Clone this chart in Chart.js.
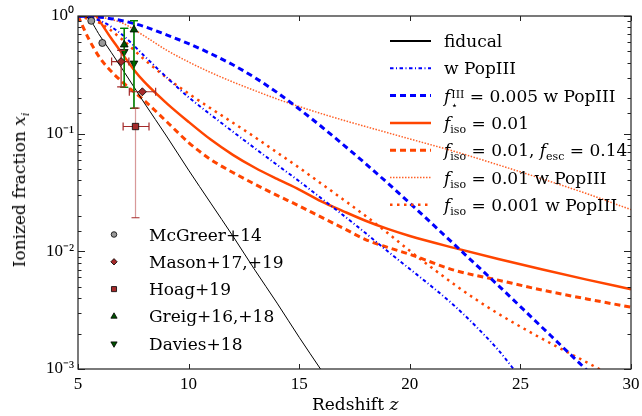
<!DOCTYPE html>
<html>
<head>
<meta charset="utf-8">
<script src="https://cdn.jsdelivr.net/npm/chart.js@4/dist/chart.umd.min.js"></script>
<style>
  body { margin: 0; background: #fff; }
  #wrap { position: relative; width: 642px; height: 416px; }
  #chart { position: absolute; left: 0; top: 0; }
  .lbl { position: absolute; font-family: 'DejaVu Serif', serif; font-size: 17px; line-height: 20px; color: #000; white-space: nowrap; }
  .lbl sub { font-size: 11px; vertical-align: -4px; line-height: 0; }
  .ss { display: inline-block; vertical-align: -7px; font-size: 11px; line-height: 11px; margin-left: 1px; }
  .ss span { display: block; }
  .ytitle { transform: translate(-50%, -50%) rotate(-90deg); }
</style>
</head>
<body>
<div id="wrap">
  <canvas id="chart" width="642" height="416"></canvas>
</div>
<script>
// model curves: redshift z and ionized fraction x_i
const fidZ = [5, 5.4, 6, 7, 8, 9, 10, 11, 12, 13, 14, 15, 16, 16.5];
const fidX = [1, 0.977, 0.676, 0.355, 0.182, 0.0955, 0.049, 0.0257, 0.0135, 0.00692, 0.00363, 0.00186, 0.000977, 0.000708];

const popZ = [5, 6, 7, 8, 9, 10, 11, 12, 13, 14, 15, 16, 17, 18, 19, 20, 21, 22, 23, 24, 24.6, 25];
const popX = [1, 0.912, 0.692, 0.457, 0.302, 0.204, 0.145, 0.104, 0.075, 0.0543, 0.0394, 0.0282, 0.0202, 0.0143, 0.01, 0.00708, 0.00501, 0.00347, 0.00229, 0.00145, 0.00105, 0.00083];

const pop005Z = [5, 6, 7, 8, 9, 10, 11, 12, 13, 14, 15, 16, 17, 18, 19, 20, 21, 22, 23, 24, 25, 26, 27, 28];
const pop005X = [1, 0.977, 0.912, 0.813, 0.692, 0.582, 0.479, 0.385, 0.299, 0.224, 0.162, 0.115, 0.0804, 0.0556, 0.038, 0.0257, 0.0172, 0.0115, 0.00767, 0.00513, 0.00339, 0.00224, 0.00148, 0.00098];

const isoZ = [5, 5.8, 6, 6.5, 7, 7.5, 8, 9, 10, 11, 12, 13, 14, 15, 16, 17, 18, 19, 20, 22, 24, 26, 28, 30];
const isoX = [1, 1, 0.891, 0.646, 0.479, 0.355, 0.275, 0.182, 0.126, 0.0891, 0.0661, 0.0513, 0.0412, 0.0335, 0.0266, 0.0219, 0.0182, 0.0155, 0.0135, 0.0107, 0.0086, 0.007, 0.00575, 0.00476];

const escZ = [5, 5.5, 6, 6.5, 7, 8, 9, 10, 11, 12, 13, 14, 15, 16, 17, 18, 19, 20, 22, 24, 26, 28, 30];
const escX = [1, 0.631, 0.437, 0.339, 0.275, 0.191, 0.127, 0.0841, 0.0603, 0.0468, 0.0372, 0.0299, 0.0243, 0.0195, 0.0157, 0.0126, 0.0108, 0.00944, 0.00692, 0.00569, 0.00468, 0.00394, 0.00335];

const isoPopZ = [5, 6, 7, 8, 9, 10, 11, 12, 13, 14, 15, 16, 17, 18, 20, 22, 24, 26, 28, 30];
const isoPopX = [1, 0.977, 0.871, 0.676, 0.513, 0.407, 0.331, 0.275, 0.232, 0.197, 0.17, 0.148, 0.13, 0.115, 0.0902, 0.0708, 0.0543, 0.0412, 0.0309, 0.0226];

const iso001Z = [5, 6, 7, 8, 9, 10, 11, 12, 13, 14, 15, 16, 17, 18, 19, 20, 21, 22, 23, 24, 25, 26, 27, 28, 29];
const iso001X = [1, 0.871, 0.631, 0.427, 0.299, 0.219, 0.164, 0.124, 0.0933, 0.0692, 0.0513, 0.0376, 0.0275, 0.02, 0.0143, 0.0101, 0.00724, 0.00525, 0.00389, 0.00295, 0.00229, 0.0018, 0.00143, 0.00114, 0.0009];

// observations
const mcgreerZ = [5.6, 6.1];
const mcgreerX = [0.91, 0.59];

const masonZ = [6.95, 7.91];
const masonX = [0.41, 0.227];
const masonZLo = [6.52, 7.32];
const masonZHi = [7.3, 8.51];
const masonLo = [0.25, 0.227];
const masonHi = [0.51, 0.227];

const hoagZ = [7.6];
const hoagX = [0.115];
const hoagZLo = [7.04];
const hoagZHi = [8.21];
const hoagLo = [0.0193];
const hoagHi = [0.165];

const greigZ = [7.09, 7.53];
const greigX = [0.57, 0.765];
const greigLo = [0.248, 0.164];
const greigHi = [0.786, 0.912];

const daviesZ = [7.09, 7.53];
const daviesX = [0.497, 0.396];
const daviesLo = [0.248, 0.164];
const daviesHi = [0.786, 0.912];

const xTicks = [5, 10, 15, 20, 25, 30];
const yTickVals = [1, 0.1, 0.01, 0.001];
const yTickLabels = ['10⁰', '10⁻¹', '10⁻²', '10⁻³'];

const lineLabels = [
  'fiducal',
  'w PopIII',
  '<i>f</i><span class="ss"><span>III</span><span>⋆</span></span> = 0.005 w PopIII',
  '<i>f</i><sub>iso</sub> = 0.01',
  '<i>f</i><sub>iso</sub> = 0.01, <i>f</i><sub>esc</sub> = 0.14',
  '<i>f</i><sub>iso</sub> = 0.01 w PopIII',
  '<i>f</i><sub>iso</sub> = 0.001 w PopIII'
];
const obsLabels = ['McGreer+14', 'Mason+17,+19', 'Hoag+19', 'Greig+16,+18', 'Davies+18'];

const ORANGE = '#ff4500';
const BLUE = '#0000ff';
const BROWN = '#a52a2a';
const GREEN = '#008000';

function pts(zs, xs) {
  return zs.map((z, i) => ({ x: z, y: xs[i] }));
}

function curve(zs, xs, color, width, dash) {
  return {
    data: pts(zs, xs),
    borderColor: color,
    borderWidth: width,
    borderDash: dash,
    pointRadius: 0,
    fill: false,
    cubicInterpolationMode: 'monotone',
    clip: 0
  };
}

function marks(zs, xs, style, bg, radius, err) {
  return {
    data: pts(zs, xs),
    showLine: false,
    pointStyle: style,
    pointRadius: radius,
    pointBackgroundColor: bg,
    pointBorderColor: '#000',
    pointBorderWidth: 0.8,
    pointRotation: 0,
    err: err,
    clip: false
  };
}

const davies = marks(daviesZ, daviesX, 'triangle', '#005000', 4.5,
  { zs: daviesZ, lo: daviesLo, hi: daviesHi, color: GREEN });
davies.pointRotation = 180;

const datasets = [
  marks(mcgreerZ, mcgreerX, 'circle', '#999999', 3.5, null),
  marks(masonZ, masonX, 'rectRot', BROWN, 4,
    { zs: masonZ, zLo: masonZLo, zHi: masonZHi, lo: masonLo, hi: masonHi, color: BROWN }),
  marks(hoagZ, hoagX, 'rect', BROWN, 4.5,
    { zs: hoagZ, zLo: hoagZLo, zHi: hoagZHi, lo: hoagLo, hi: hoagHi, color: BROWN, vColor: 'rgba(200,110,110,0.7)' }),
  marks(greigZ, greigX, 'triangle', '#005000', 4.5,
    { zs: greigZ, lo: greigLo, hi: greigHi, color: GREEN }),
  davies,
  curve(fidZ, fidX, '#000', 1, []),
  curve(popZ, popX, BLUE, 2, [3.5, 2.5, 1, 2.5]),
  curve(pop005Z, pop005X, BLUE, 3, [6, 4]),
  curve(isoZ, isoX, ORANGE, 2.5, []),
  curve(escZ, escX, ORANGE, 3, [6, 4]),
  curve(isoPopZ, isoPopX, 'rgba(255,69,0,0.85)', 1.5, [1.5, 1.5]),
  curve(iso001Z, iso001X, ORANGE, 2.5, [2.5, 4.5])
];

function isDecade(v) {
  const l = Math.log10(v);
  return Math.abs(l - Math.round(l)) < 1e-6;
}

const errorBars = {
  id: 'errorBars',
  beforeDatasetDraw(chart, args) {
    const ds = chart.data.datasets[args.index];
    if (!ds.err) return;
    const e = ds.err;
    const { ctx, scales: { x, y } } = chart;
    const cap = 4;
    ctx.save();
    ctx.lineWidth = 1.2;
    e.zs.forEach((z, i) => {
      const px = x.getPixelForValue(z);
      const py = y.getPixelForValue(ds.data[i].y);
      if (e.lo && e.lo[i] !== e.hi[i]) {
        const y1 = y.getPixelForValue(e.lo[i]);
        const y2 = y.getPixelForValue(e.hi[i]);
        ctx.strokeStyle = e.vColor || e.color;
        ctx.beginPath();
        ctx.moveTo(px, y1); ctx.lineTo(px, y2);
        ctx.stroke();
        ctx.strokeStyle = e.color;
        ctx.beginPath();
        ctx.moveTo(px - cap, y1); ctx.lineTo(px + cap, y1);
        ctx.moveTo(px - cap, y2); ctx.lineTo(px + cap, y2);
        ctx.stroke();
      }
      if (e.zLo) {
        const x1 = x.getPixelForValue(e.zLo[i]);
        const x2 = x.getPixelForValue(e.zHi[i]);
        ctx.strokeStyle = e.color;
        ctx.beginPath();
        ctx.moveTo(x1, py); ctx.lineTo(x2, py);
        ctx.moveTo(x1, py - cap); ctx.lineTo(x1, py + cap);
        ctx.moveTo(x2, py - cap); ctx.lineTo(x2, py + cap);
        ctx.stroke();
      }
    });
    ctx.restore();
  }
};

// frame, inward ticks and the two legends' symbols
const frameAndKeys = {
  id: 'frameAndKeys',
  afterDraw(chart) {
    const { ctx, chartArea: a, scales: { x, y } } = chart;
    ctx.save();
    ctx.strokeStyle = '#222';
    ctx.lineWidth = 1.2;
    ctx.strokeRect(a.left, a.top, a.right - a.left, a.bottom - a.top);

    ctx.lineWidth = 1;
    ctx.beginPath();
    y.ticks.forEach(t => {
      const py = Math.round(y.getPixelForValue(t.value)) + 0.5;
      const len = isDecade(t.value) ? 7 : 3.5;
      ctx.moveTo(a.left, py); ctx.lineTo(a.left + len, py);
      ctx.moveTo(a.right, py); ctx.lineTo(a.right - len, py);
    });
    x.ticks.forEach(t => {
      const px = Math.round(x.getPixelForValue(t.value)) + 0.5;
      ctx.moveTo(px, a.bottom); ctx.lineTo(px, a.bottom - 5);
      ctx.moveTo(px, a.top); ctx.lineTo(px, a.top + 5);
    });
    ctx.stroke();

    // line legend samples
    const lineSets = chart.data.datasets.slice(5);
    lineSets.forEach((ds, i) => {
      const yy = 41 + i * 27.3;
      ctx.strokeStyle = ds.borderColor;
      ctx.lineWidth = i === 0 ? 2 : ds.borderWidth;
      ctx.setLineDash(ds.borderDash);
      ctx.beginPath();
      ctx.moveTo(390, yy); ctx.lineTo(431, yy);
      ctx.stroke();
    });
    ctx.setLineDash([]);

    // marker legend
    const markSets = chart.data.datasets.slice(0, 5);
    markSets.forEach((ds, i) => {
      const yy = 234.5 + i * 27.3;
      ctx.fillStyle = ds.pointBackgroundColor;
      ctx.strokeStyle = '#000';
      ctx.lineWidth = 0.8;
      Chart.helpers.drawPoint(ctx, {
        pointStyle: ds.pointStyle,
        radius: ds.pointRadius * 0.8,
        rotation: ds.pointRotation,
        borderWidth: 0.8
      }, 114, yy);
    });
    ctx.restore();
  }
};

new Chart(document.getElementById('chart'), {
  type: 'line',
  data: { datasets: datasets },
  options: {
    responsive: false,
    animation: false,
    devicePixelRatio: 1,
    layout: { padding: { top: 16, right: 11, left: 0, bottom: 0 } },
    plugins: { legend: { display: false }, tooltip: { enabled: false } },
    scales: {
      x: {
        type: 'linear', min: 5, max: 30,
        afterBuildTicks: s => { s.ticks = xTicks.map(v => ({ value: v })); },
        // invisible tick marks push the labels down without widening the side padding
        grid: { display: true, drawOnChartArea: false, drawTicks: true, tickLength: 5, tickColor: 'rgba(0,0,0,0)', color: 'rgba(0,0,0,0)' },
        border: { display: false },
        ticks: { color: '#000', padding: 0, font: { family: 'Liberation Serif', size: 17 } },
        afterFit: s => { s.height = 47; }
      },
      y: {
        type: 'logarithmic', min: 0.001, max: 1,
        grid: { display: false, drawTicks: false },
        border: { display: false },
        ticks: {
          autoSkip: false, color: '#000', padding: 4,
          font: { family: 'Liberation Serif', size: 17 },
          callback: v => {
            const k = yTickVals.findIndex(t => Math.abs(Math.log10(t) - Math.log10(v)) < 1e-6);
            return k >= 0 ? yTickLabels[k] : '';
          }
        },
        afterFit: s => { s.width = 78; }
      }
    }
  },
  plugins: [errorBars, frameAndKeys]
});

// text overlays
const wrap = document.getElementById('wrap');
function addLabel(html, left, top, cls) {
  const d = document.createElement('div');
  d.className = 'lbl' + (cls ? ' ' + cls : '');
  d.innerHTML = html;
  d.style.left = left + 'px';
  d.style.top = top + 'px';
  wrap.appendChild(d);
  return d;
}
lineLabels.forEach((t, i) => addLabel(t, 444, 41 + i * 27.3 - 10));
obsLabels.forEach((t, i) => addLabel(t, 149, 234.5 + i * 27.3 - 10));
const xt = addLabel('Redshift <i>z</i>', 0, 394);
xt.style.left = (355 - xt.offsetWidth / 2) + 'px';
addLabel('Ionized fraction <i>x<sub>i</sub></i>', 19, 190, 'ytitle');
</script>
</body>
</html>
